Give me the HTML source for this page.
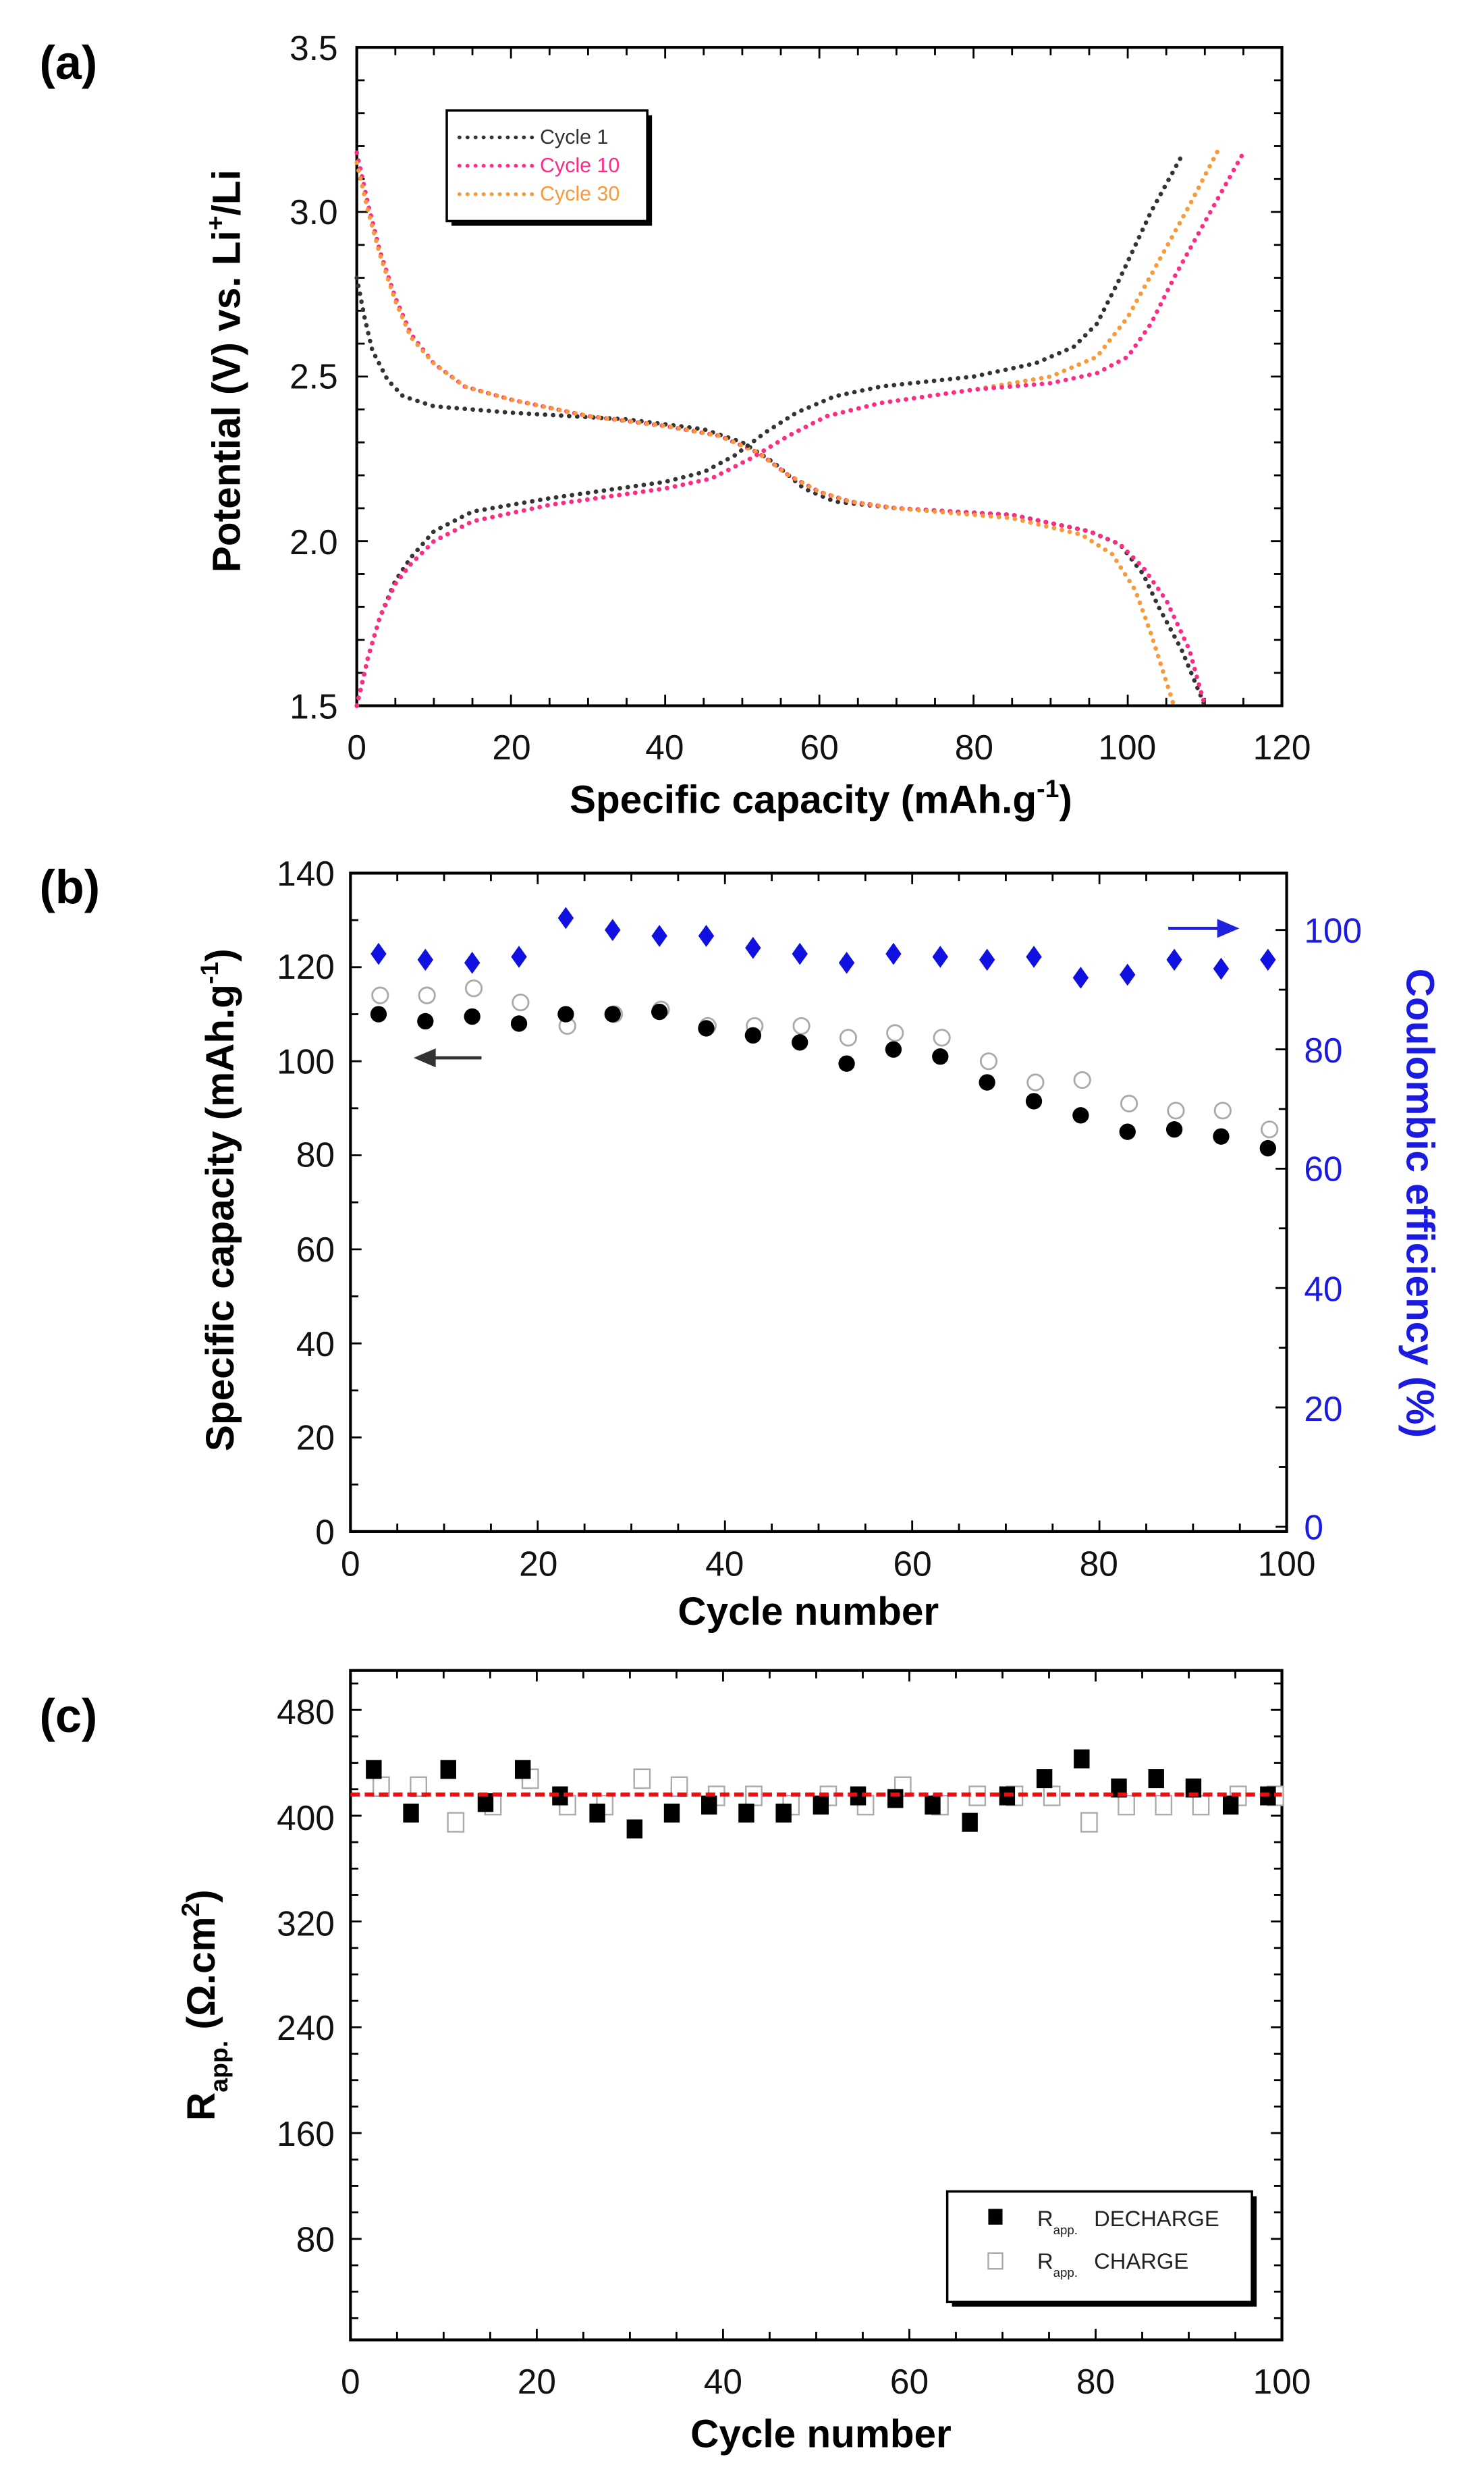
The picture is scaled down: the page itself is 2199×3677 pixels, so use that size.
<!DOCTYPE html>
<html><head><meta charset="utf-8"><style>
html,body{margin:0;padding:0;background:#fff}
svg{display:block}
text{font-family:"Liberation Sans",Arial,sans-serif}
</style></head><body>
<svg id="s" width="2199" height="3677" viewBox="0 0 940 1572" preserveAspectRatio="none" xmlns="http://www.w3.org/2000/svg">
<rect width="940" height="1572" fill="#fff"/>
<g id="g"></g>
<g font-weight="bold" font-size="30" fill="#000">
<text x="25" y="50">(a)</text>
<text x="25" y="572">(b)</text>
<text x="25" y="1097">(c)</text>
</g>
<g font-size="22" fill="#111" text-anchor="end">
<text x="214" y="38">3.5</text><text x="214" y="142">3.0</text><text x="214" y="246">2.5</text><text x="214" y="351">2.0</text><text x="214" y="455">1.5</text>
</g>
<g font-size="22" fill="#111" text-anchor="middle">
<text x="226" y="481">0</text><text x="324" y="481">20</text><text x="421" y="481">40</text><text x="519" y="481">60</text><text x="617" y="481">80</text><text x="714" y="481">100</text><text x="812" y="481">120</text>
</g>
<text x="520" y="515" font-size="25" font-weight="bold" text-anchor="middle">Specific capacity (mAh.g<tspan dy="-10" font-size="16">-1</tspan><tspan dy="10">)</tspan></text>
<text transform="translate(152,235) rotate(-90)" font-size="25" font-weight="bold" text-anchor="middle">Potential (V) vs. Li<tspan dy="-10" font-size="16">+</tspan><tspan dy="10">/Li</tspan></text>
<rect x="286" y="73" width="127" height="70" fill="#000"/>
<rect x="283" y="70" width="127" height="70" fill="#fff" stroke="#000" stroke-width="1.5"/>
<g stroke-width="2.4" stroke-dasharray="0.1 5" stroke-linecap="round">
<line x1="291" y1="87" x2="338" y2="87" stroke="#333"/>
<line x1="291" y1="105" x2="338" y2="105" stroke="#ff2a85"/>
<line x1="291" y1="123" x2="338" y2="123" stroke="#f99a3a"/>
</g>
<g font-size="13">
<text x="342" y="91" fill="#333">Cycle 1</text>
<text x="342" y="109" fill="#ff2a85">Cycle 10</text>
<text x="342" y="127" fill="#f99a3a">Cycle 30</text>
</g>
<g font-size="22" fill="#111" text-anchor="end">
<text x="212" y="561">140</text><text x="212" y="620">120</text><text x="212" y="680">100</text><text x="212" y="739">80</text><text x="212" y="799">60</text><text x="212" y="859">40</text><text x="212" y="918">20</text><text x="212" y="978">0</text>
</g>
<g font-size="22" fill="#1a1ae0" text-anchor="start">
<text x="826" y="597">100</text><text x="826" y="673">80</text><text x="826" y="748">60</text><text x="826" y="824">40</text><text x="826" y="900">20</text><text x="826" y="975">0</text>
</g>
<g font-size="22" fill="#111" text-anchor="middle">
<text x="222" y="998">0</text><text x="341" y="998">20</text><text x="459" y="998">40</text><text x="578" y="998">60</text><text x="696" y="998">80</text><text x="815" y="998">100</text>
</g>
<text x="512" y="1029" font-size="25" font-weight="bold" text-anchor="middle">Cycle number</text>
<text transform="translate(148,760) rotate(-90)" font-size="25" font-weight="bold" text-anchor="middle">Specific capacity (mAh.g<tspan dy="-10" font-size="16">-1</tspan><tspan dy="10">)</tspan></text>
<text transform="translate(891,762) rotate(90)" font-size="25" font-weight="bold" fill="#1a1ae0" text-anchor="middle">Coulombic efficiency (%)</text>
<g font-size="22" fill="#111" text-anchor="end">
<text x="212" y="1092">480</text><text x="212" y="1159">400</text><text x="212" y="1226">320</text><text x="212" y="1292">240</text><text x="212" y="1359">160</text><text x="212" y="1426">80</text>
</g>
<g font-size="22" fill="#111" text-anchor="middle">
<text x="222" y="1516">0</text><text x="340" y="1516">20</text><text x="458" y="1516">40</text><text x="576" y="1516">60</text><text x="694" y="1516">80</text><text x="812" y="1516">100</text>
</g>
<text x="520" y="1550" font-size="25" font-weight="bold" text-anchor="middle">Cycle number</text>
<text transform="translate(136,1270) rotate(-90)" font-size="25" font-weight="bold" text-anchor="middle">R<tspan dy="8" font-size="16">app.</tspan><tspan dy="-8"> (Ω.cm</tspan><tspan dy="-10" font-size="16">2</tspan><tspan dy="10">)</tspan></text>
<rect x="603" y="1391" width="193" height="70" fill="#000"/>
<rect x="600" y="1388" width="193" height="70" fill="#fff" stroke="#000" stroke-width="1.5"/>
<rect x="626" y="1399" width="9" height="10" fill="#000"/>
<rect x="626" y="1427" width="9" height="10" fill="none" stroke="#aaa" stroke-width="1"/>
<g font-size="14" fill="#222">
<text x="657" y="1410">R<tspan dy="5" font-size="8">app.</tspan><tspan dy="-5" x="693">DECHARGE</tspan></text>
<text x="657" y="1437">R<tspan dy="5" font-size="8">app.</tspan><tspan dy="-5" x="693">CHARGE</tspan></text>
</g>
</svg>
<script>
var g=document.getElementById('g'),NS='http://www.w3.org/2000/svg';
function el(t,a){var e=document.createElementNS(NS,t);for(var k in a)e.setAttribute(k,a[k]);g.appendChild(e);return e}
function ln(x1,y1,x2,y2,w,c){el('line',{x1:x1,y1:y1,x2:x2,y2:y2,stroke:c||'#000','stroke-width':w||1.2})}
function frame(x0,y0,x1,y1){el('rect',{x:x0,y:y0,width:x1-x0,height:y1-y0,fill:'none',stroke:'#000','stroke-width':1.8})}
function xt(x0,x1,y0,y1,n,majEvery){for(var i=0;i<=n;i++){var x=x0+(x1-x0)*i/n,L=(i%majEvery==0)?7:5;ln(x,y1,x,y1-L);ln(x,y0,x,y0+L)}}
function ytk(y0,y1,x0,x1,n,majEvery,left,right){for(var i=0;i<=n;i++){var y=y0+(y1-y0)*i/n,L=(i%majEvery==0)?7:5;if(left)ln(x0,y,x0+L,y);if(right)ln(x1,y,x1-L,y)}}
frame(226,30,812,447);xt(226,812,30,447,24,4);ytk(30,447,226,812,20,5,1,1);
var XA=function(c){return 226+c*586/120},YA=function(v){return 447-(v-1.5)*417/2};
function curve(pts,col){var d=pts.map(function(p,i){return(i?'L':'M')+XA(p[0]).toFixed(1)+','+YA(p[1]).toFixed(1)}).join('');el('path',{d:d,fill:'none',stroke:col,'stroke-width':2.8,'stroke-dasharray':'0.1 5','stroke-linecap':'round'})}
var K='#333',P='#ff2a85',O='#f99a3a';
curve([[0,2.8],[1,2.68],[2,2.58],[4,2.49],[6,2.44],[10,2.41],[20,2.39],[35,2.37],[45,2.34],[50,2.3],[54,2.24],[58,2.16],[62,2.12],[70,2.1],[85,2.08],[95,2.03],[99,1.99],[102,1.9],[104,1.8],[107,1.67],[110,1.5]],K);
curve([[0,3.18],[1.5,3.02],[3,2.88],[5,2.74],[7,2.63],[10,2.54],[14,2.47],[20,2.43],[30,2.38],[40,2.35],[47,2.32],[52,2.27],[56,2.2],[60,2.15],[64,2.12],[70,2.1],[85,2.08],[95,2.03],[99,1.99],[102,1.92],[105,1.82],[108,1.67],[110,1.5]],P);
curve([[0,3.15],[1.5,3.0],[3,2.87],[5,2.73],[7,2.62],[10,2.54],[14,2.47],[20,2.43],[30,2.38],[40,2.35],[47,2.32],[52,2.27],[56,2.2],[60,2.15],[64,2.12],[70,2.1],[85,2.07],[94,2.02],[98,1.96],[101,1.85],[103,1.72],[106,1.5]],O);
curve([[0,1.5],[1.5,1.65],[3,1.77],[5,1.88],[7,1.95],[10,2.03],[15,2.09],[25,2.13],[40,2.18],[45,2.21],[49,2.26],[53,2.33],[57,2.39],[62,2.44],[68,2.47],[80,2.5],[88,2.54],[93,2.59],[96,2.66],[99,2.8],[103,3.0],[107,3.17]],K);
curve([[0,1.5],[1.5,1.65],[3,1.77],[5,1.87],[7,1.93],[10,2.0],[15,2.06],[25,2.11],[40,2.16],[46,2.19],[51,2.25],[56,2.32],[61,2.38],[68,2.42],[80,2.46],[90,2.5],[96,2.56],[100,2.68],[104,2.85],[108,3.02],[112,3.2]],O);
curve([[0,1.5],[1.5,1.65],[3,1.77],[5,1.87],[7,1.93],[10,2.0],[15,2.06],[25,2.11],[40,2.16],[46,2.19],[51,2.25],[56,2.32],[61,2.38],[68,2.42],[80,2.46],[90,2.48],[96,2.51],[100,2.56],[103,2.66],[106,2.8],[110,2.97],[115,3.18]],P);
frame(222,553,815,970);xt(222,815,553,970,20,4);ytk(553,970,222,815,14,2,1,0);
for(var p=0;p<=110;p+=10){var y=967-p*3.78;if(y<553)break;ln(815,y,815-(p%20==0?7:5),y)}
var XB=function(n){return 222+n*5.93},YL=function(v){return 970-v*417/140},YR=function(p){return 967-p*3.78};
var fil=[110,108.5,109.5,108,110,110,110.5,107,105.5,104,99.5,102.5,101,95.5,91.5,88.5,85,85.5,84,81.5];
var opn=[114,114,115.5,112.5,107.5,110,111,107.5,107.5,107.5,105,106,105,100,95.5,96,91,89.5,89.5,85.5];
var ce=[96,95,94.5,95.5,102,100,99,99,97,96,94.5,96,95.5,95,95.5,92,92.5,95,93.5,95];
for(var i=0;i<20;i++){var n=3+5*i;
el('circle',{cx:XB(n)+1,cy:YL(opn[i]),r:5,fill:'#fff',stroke:'#aaa','stroke-width':1.2});
el('circle',{cx:XB(n),cy:YL(fil[i]),r:5.2,fill:'#000'});
var x=XB(n),y=YR(ce[i]);el('path',{d:'M'+x+','+(y-7)+'L'+(x+5)+','+y+'L'+x+','+(y+7)+'L'+(x-5)+','+y+'Z',fill:'#1010e0'});}
ln(305,670,270,670,2,'#333');el('path',{d:'M262,670L276,664L276,676Z',fill:'#333'});
ln(740,588,775,588,2,'#2020e0');el('path',{d:'M785,588L771,582L771,594Z',fill:'#2020e0'});
frame(222,1058,812,1482);xt(222,812,1058,1482,20,4);
var YC=function(r){return 1485-r*67/80};
for(var r=20;r<=500;r+=20){var y=YC(r);ln(222,y,222+(r%80==0?7:5),y);ln(812,y,812-(r%80==0?7:5),y)}
var XC=function(n){return 222+n*5.9};
var dch=[435,402,435,410,435,415,402,390,402,408,402,402,408,415,413,408,395,415,428,443,421,428,421,408,415];
var chg=[422,422,395,408,428,408,408,428,422,415,415,408,415,408,422,408,415,415,415,395,408,408,408,415,415];
for(var i=0;i<25;i++){var n=2.5+4*i;
el('rect',{x:XC(n+0.8)-5,y:YC(chg[i])-6,width:10,height:12,fill:'#fff',stroke:'#aaa','stroke-width':1});
el('rect',{x:XC(n)-5,y:YC(dch[i])-6,width:10,height:12,fill:'#000'});}
el('line',{x1:222,y1:YC(416),x2:812,y2:YC(416),stroke:'#e81010','stroke-width':2.6,'stroke-dasharray':'6 3'});
</script>
</body></html>
